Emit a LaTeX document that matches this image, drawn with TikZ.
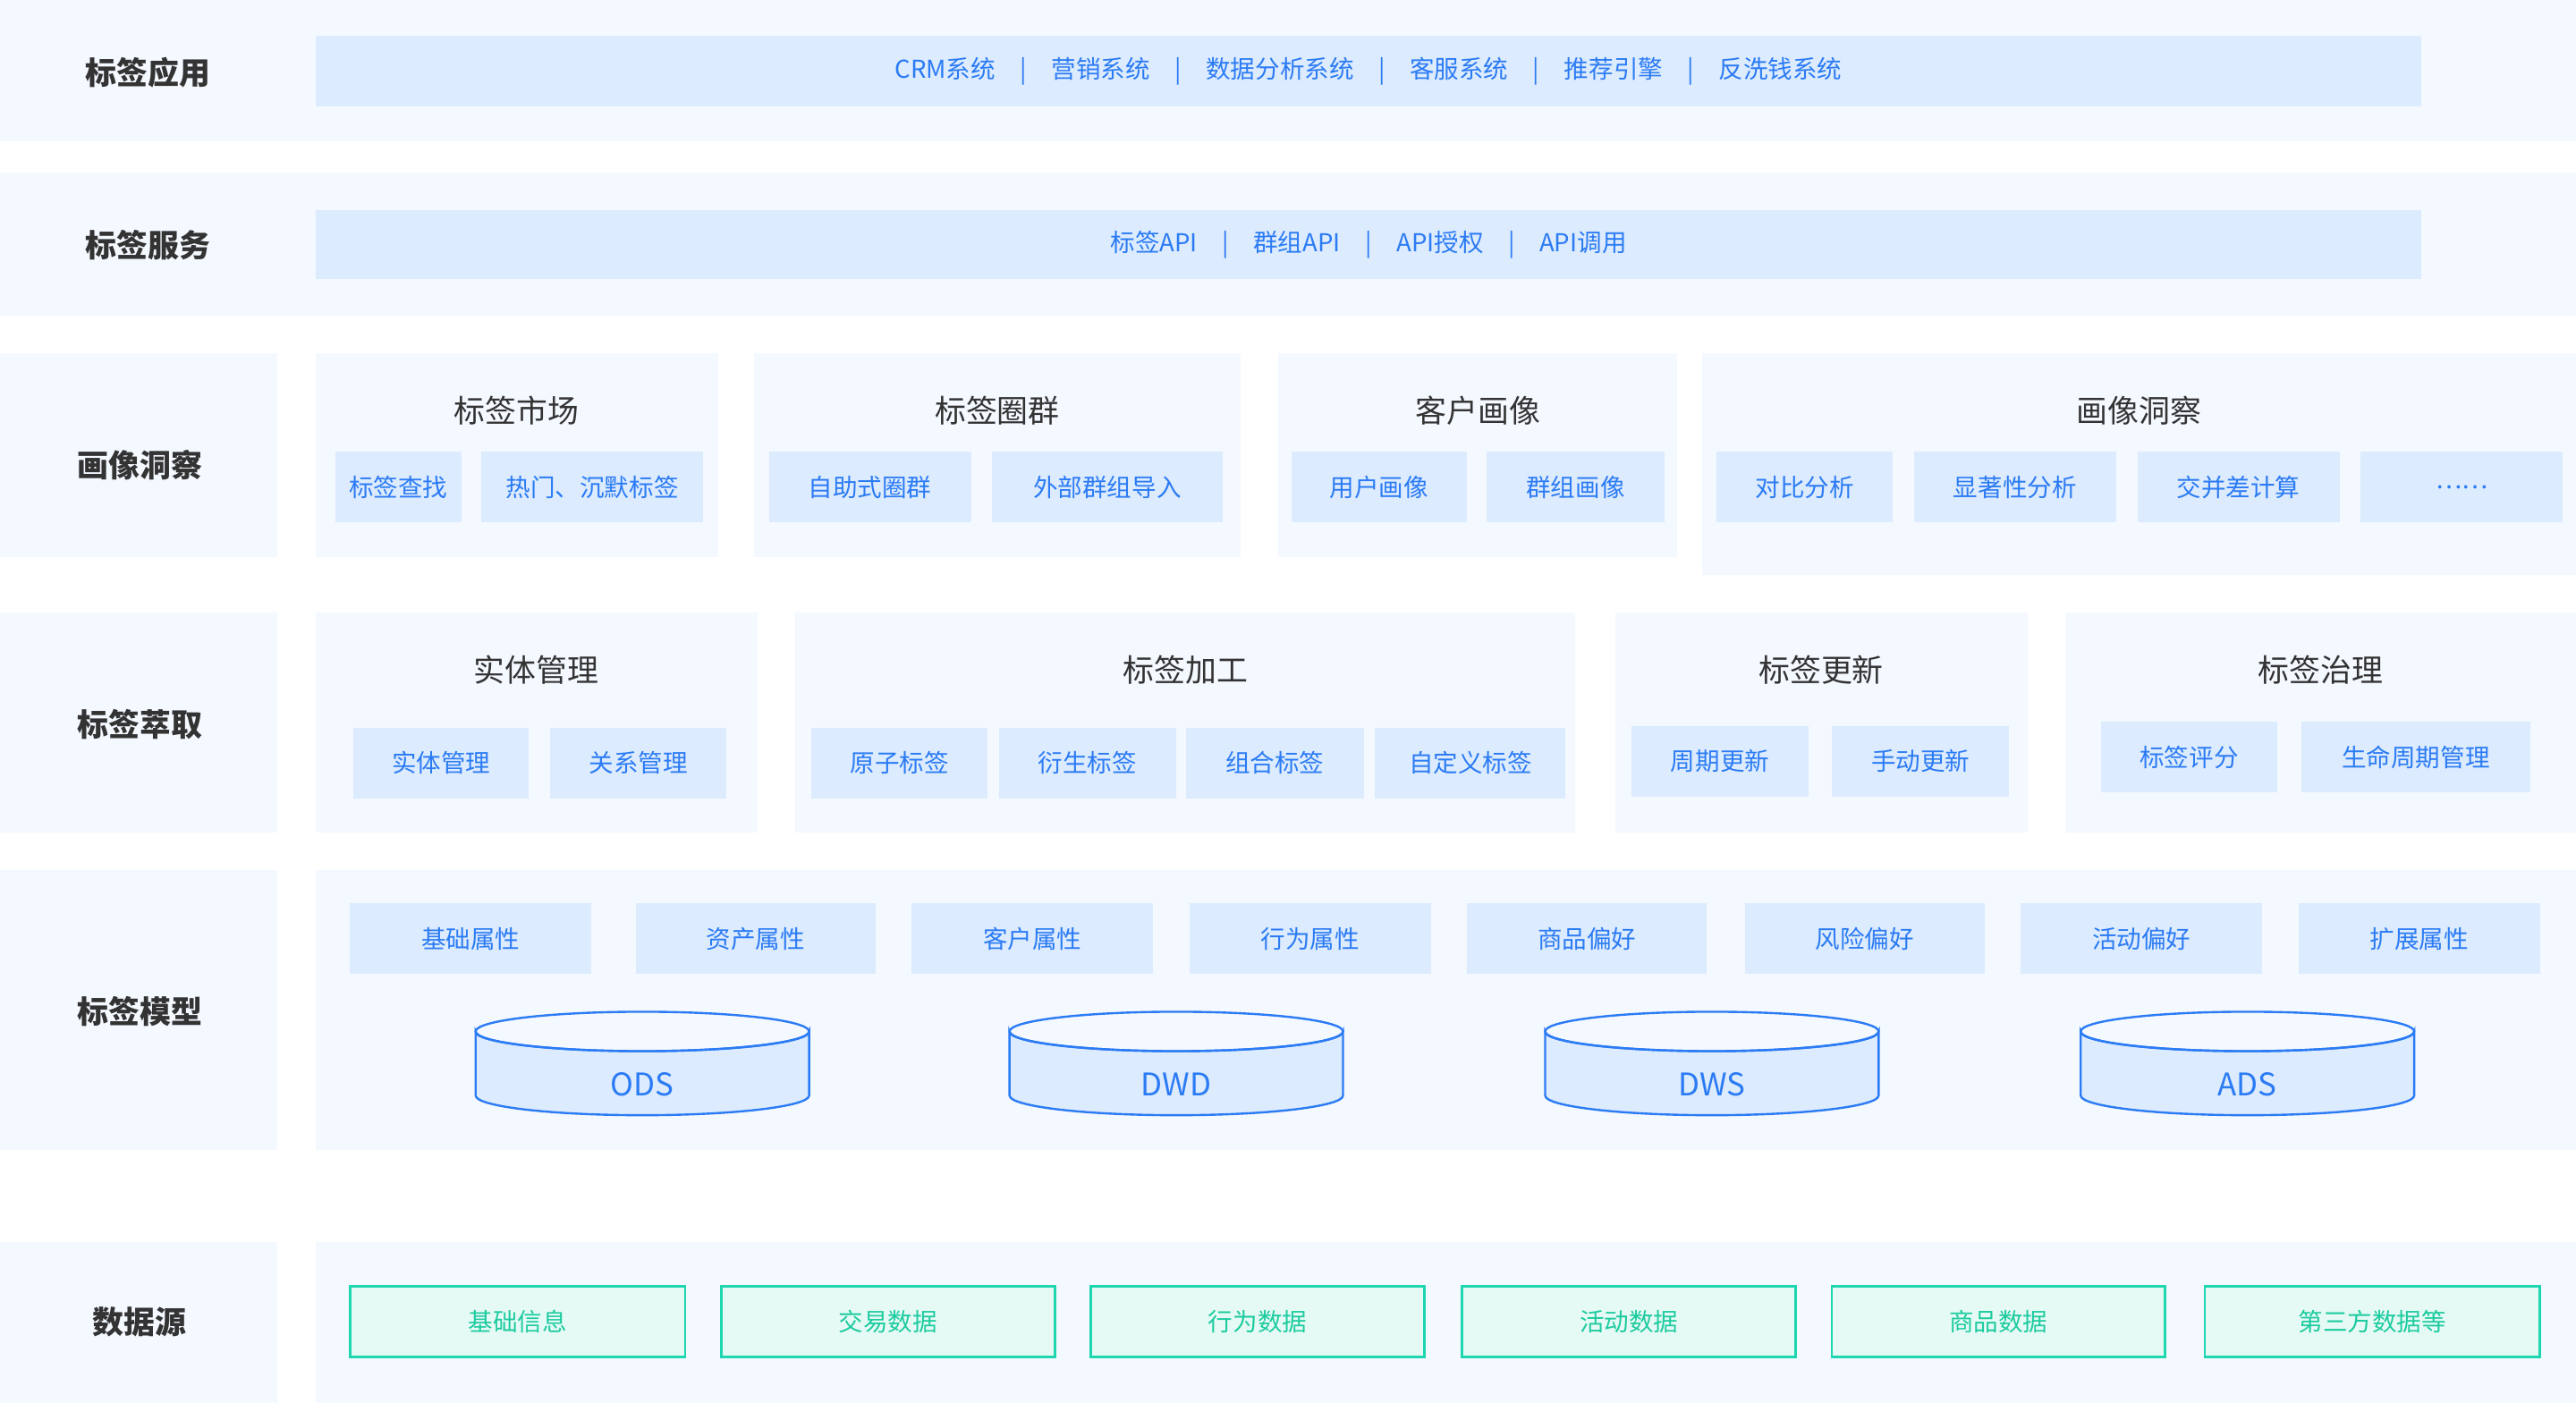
\documentclass[tikz,border=0pt]{standalone}
\usepackage{fontspec}
\setmainfont{Noto Sans CJK SC}
\usetikzlibrary{positioning}
\definecolor{bandbg}{HTML}{F4F8FF}
\definecolor{subbg}{HTML}{DCEBFD}
\definecolor{bluetxt}{HTML}{2B7BF5}
\definecolor{darktxt}{HTML}{333333}
\definecolor{greenln}{HTML}{1ED6B0}
\definecolor{greenbg}{HTML}{E6FAF5}
\definecolor{greentxt}{HTML}{1CCB9F}
\tikzset{
  rowlabel/.style={text=darktxt,font=\fontsize{19}{22}\selectfont\bfseries},
  grouptitle/.style={text=darktxt,font=\fontsize{19}{22}\selectfont},
  subbox/.style={fill=subbg,text=bluetxt,inner sep=0pt,font=\fontsize{15}{18}\selectfont},
  srcbox/.style={fill=greenbg,draw=greenln,line width=1.5pt,text=greentxt,inner sep=0pt,font=\fontsize{15}{18}\selectfont}
}
\newcommand{\vsep}{\quad|\quad}
\begin{document}
\begin{tikzpicture}[x=1pt,y=-1pt]
\useasboundingbox (0,0) rectangle (1568,854);
\fill[white] (0,0) rectangle (1568,854);
% bands
\fill[bandbg] (0,0) rectangle (1568,86);
\fill[bandbg] (0,105) rectangle (1568,192);
\foreach \ya/\yb in {215/339,373/507,530/700,756/854}
  \fill[bandbg] (0,\ya) rectangle (169,\yb);
\fill[bandbg] (192,530) rectangle (1568,700);
\fill[bandbg] (192,756) rectangle (1568,854);
% row labels
\node[rowlabel] (lapp) at (90,44) {标签应用};
\node[rowlabel] (lsvc) at (90,149) {标签服务};
\node[rowlabel] (lins) at (85,283) {画像洞察};
\node[rowlabel] (lext) at (85,441) {标签萃取};
\node[rowlabel] (lmod) at (85,616) {标签模型};
\node[rowlabel] (lsrc) at (85,805) {数据源};
% application and service
\node[subbox,minimum width=1282pt,minimum height=43pt] (app) at (833,43.5)
  {CRM系统\vsep 营销系统\vsep 数据分析系统\vsep 客服系统\vsep 推荐引擎\vsep 反洗钱系统};
\node[subbox,minimum width=1282pt,minimum height=42pt] (svc) at (833,149)
  {标签API\vsep 群组API\vsep API授权\vsep API调用};
% insight groups
\foreach \xa/\xb/\yb/\name/\ttl in {192/437/339/gmkt/标签市场,459/755/339/gcir/标签圈群,778/1021/339/gpor/客户画像,1036/1568/350/gins/画像洞察}{
  \fill[bandbg] (\xa,215) rectangle (\xb,\yb);
  \node[grouptitle] (\name) at ({(\xa+\xb)/2},250) {\ttl};
}
\foreach \xa/\xb/\txt [count=\i] in {204/281/标签查找,293/428/热门、沉默标签,468/591/自助式圈群,604/744/外部群组导入,786/893/用户画像,905/1013/群组画像,1045/1152/对比分析,1165/1288/显著性分析,1301/1424/交并差计算,1437/1560/……}
  \node[subbox,minimum width={(\xb-\xa)*1pt},minimum height=43pt] (ins\i) at ({(\xa+\xb)/2},296.5) {\txt};
% extraction groups
\foreach \xa/\xb/\name/\ttl in {192/461/gent/实体管理,484/959/gproc/标签加工,983/1234/gupd/标签更新,1257/1568/ggov/标签治理}{
  \fill[bandbg] (\xa,373) rectangle (\xb,507);
  \node[grouptitle] (\name) at ({(\xa+\xb)/2},408) {\ttl};
}
\foreach \xa/\xb/\yc/\txt [count=\i] in {215/322/464.5/实体管理,335/442/464.5/关系管理,494/601/464.5/原子标签,608/716/464.5/衍生标签,722/830/464.5/组合标签,837/953/464.5/自定义标签,993/1101/463.5/周期更新,1115/1223/463.5/手动更新,1279/1386/461/标签评分,1401/1540/461/生命周期管理}
  \node[subbox,minimum width={(\xb-\xa)*1pt},minimum height=43pt] (ext\i) at ({(\xa+\xb)/2},\yc) {\txt};
% model attributes
\foreach \xa/\xb/\txt [count=\i] in {213/360/基础属性,387/533/资产属性,555/702/客户属性,724/871/行为属性,893/1039/商品偏好,1062/1208/风险偏好,1230/1377/活动偏好,1399/1546/扩展属性}
  \node[subbox,minimum width={(\xb-\xa)*1pt},minimum height=43pt] (attr\i) at ({(\xa+\xb)/2},571.5) {\txt};
% warehouse layers
\foreach \xc/\txt in {391/ODS,716/DWD,1042/DWS,1368/ADS}{
  \filldraw[fill=subbg,draw=bluetxt,line width=1.3pt]
    (\xc-101.5,628) -- (\xc-101.5,667) arc[start angle=180,end angle=360,x radius=101.5pt,y radius=12pt]
    -- (\xc+101.5,628) arc[start angle=0,end angle=-180,x radius=101.5pt,y radius=12pt] -- cycle;
  \draw[bluetxt,line width=1.3pt] (\xc,628) ellipse[x radius=101.5pt,y radius=12pt];
  \node[text=bluetxt,font=\fontsize{19}{22}\selectfont] (db\txt) at (\xc,660) {\txt};
}
% sources
\foreach \xa/\xb/\txt [count=\i] in {213/417/基础信息,439/642/交易数据,664/867/行为数据,890/1093/活动数据,1115/1318/商品数据,1342/1546/第三方数据等}
  \node[srcbox,minimum width={(\xb-\xa)*1pt},minimum height=43pt] (src\i) at ({(\xa+\xb)/2},804.5) {\txt};
\end{tikzpicture}
\end{document}
